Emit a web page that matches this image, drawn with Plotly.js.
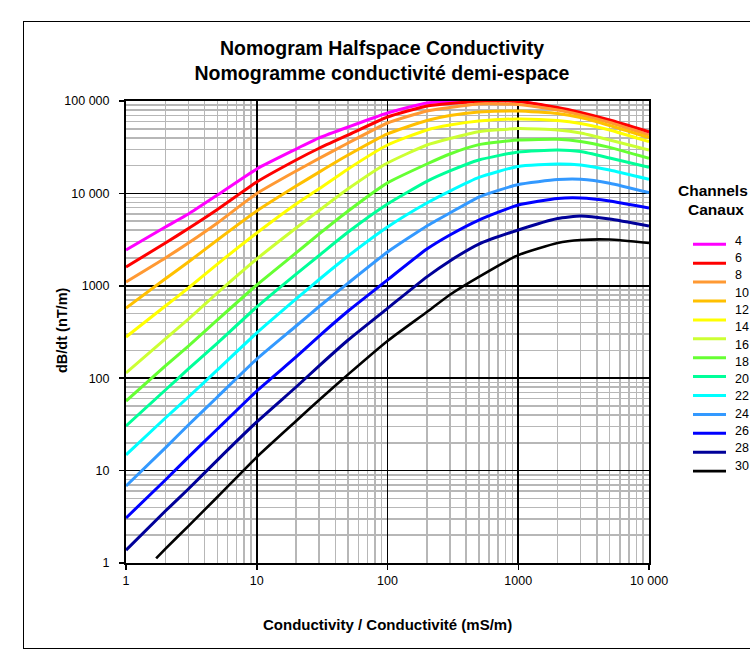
<!DOCTYPE html>
<html>
<head>
<meta charset="utf-8">
<script src="https://cdn.plot.ly/plotly-3.0.1.min.js"></script>
<style>
  html, body { margin: 0; padding: 0; background: #ffffff; }
  #wrap { position: relative; width: 750px; height: 659px; overflow: hidden; }
  #chart { width: 750px; height: 659px; }
  #frame { position: absolute; left: 23px; top: 21px; width: 760px; height: 626px;
           border: 1.5px solid #000; pointer-events: none; }
</style>
</head>
<body>
<div id="wrap">
  <div id="chart"></div>
  <div id="frame"></div>
</div>
<script>
// Conductivity (mS/m) sample points
const conductivity = [1, 2, 3, 5, 10, 20, 30, 50, 100, 200, 300, 500, 1000, 2000, 3000, 5000, 10000];
const conductivityCh30 = [1.7, 2, 3, 5, 10, 20, 30, 50, 100, 200, 300, 500, 1000, 2000, 3000, 5000, 10000];

// dB/dt (nT/m) per channel
const ch4  = [2440, 4330, 5990, 9610, 18400, 30200, 39800, 52300, 74200, 95200, 98800, 101000, 100000, 83000, 73000, 60500, 45000];
const ch6  = [1600, 2900, 4170, 6700, 13300, 23000, 30800, 42900, 67100, 88300, 94000, 98800, 98800, 85000, 75100, 62300, 46500];
const ch8  = [1100, 2000, 2900, 4780, 9980, 17500, 23900, 35100, 57800, 78000, 85000, 92800, 91600, 79900, 70600, 58500, 42900];
const ch10 = [575, 1190, 1810, 3130, 6450, 12000, 17000, 26000, 44000, 61500, 69700, 76000, 78000, 73200, 66300, 54300, 40100];
const ch12 = [279, 604, 947, 1720, 3730, 7680, 11200, 18400, 33400, 48600, 55000, 60800, 63900, 61500, 57100, 48600, 36300];
const ch14 = null; // no curve drawn for channel 14
const ch16 = [114, 266, 437, 836, 1950, 4220, 6530, 11200, 21300, 33400, 39300, 46500, 50400, 48600, 45100, 37800, 29500];
const ch18 = [56.6, 136, 223, 427, 1020, 2270, 3640, 6450, 13000, 20800, 26700, 33700, 37800, 38500, 36500, 31500, 24000];
const ch20 = [30.4, 74.5, 126, 240, 590, 1340, 2130, 3820, 7680, 13500, 17500, 23000, 28100, 29500, 28400, 24200, 19200];
const ch22 = [14.8, 37.1, 62.6, 123, 309, 720, 1170, 2100, 4330, 7870, 10600, 14900, 19600, 20800, 20300, 17900, 14200];
const ch24 = [6.81, 17.6, 31.2, 62.6, 161, 367, 597, 1070, 2320, 4440, 6140, 9140, 12500, 14100, 14200, 12900, 10200];
const ch26 = [3.07, 7.91, 14.0, 28.2, 72.7, 170, 286, 534, 1160, 2500, 3550, 5150, 7490, 8810, 8920, 8280, 6950];
const ch28 = [1.38, 3.65, 6.32, 13.0, 33.6, 80.3, 136, 259, 570, 1250, 1860, 2830, 4020, 5350, 5690, 5280, 4440];
const ch30 = [1.12, 1.42, 2.51, 5.18, 14.0, 34.4, 58.1, 110, 253, 520, 800, 1250, 2150, 2910, 3130, 3170, 2910];

const channelNames = ['4', '6', '8', '10', '12', '14', '16', '18', '20', '22', '24', '26', '28', '30'];
const channelColors = ['#FF00FF', '#FF0000', '#FF9933', '#FFC000', '#FFFF00', null, '#CCFF33', '#66FF33',
                       '#00FF99', '#00FFFF', '#3399FF', '#0000FF', '#000099', '#000000'];
const channelData = [ch4, ch6, ch8, ch10, ch12, ch14, ch16, ch18, ch20, ch22, ch24, ch26, ch28, ch30];

const xTickVals = [1, 10, 100, 1000, 10000];
const xTickText = ['1', '10', '100', '1000', '10 000'];
const yTickVals = [1, 10, 100, 1000, 10000, 100000];
const yTickText = ['1', '10', '100', '1000', '10 000', '100 000'];

// ---- layout geometry (pixels) ----
const W = 750, H = 659;
const M = { l: 126, r: 101, t: 101, b: 96 };
const plotW = W - M.l - M.r, plotH = H - M.t - M.b;
const px = (x) => (x - M.l) / plotW;
const py = (y) => (H - M.b - y) / plotH;

function minorVals(lo, hi) {
  const out = [];
  for (let d = lo; d < hi; d++) {
    for (let m = 2; m <= 9; m++) out.push(m * Math.pow(10, d));
  }
  return out;
}

const traces = [];
channelNames.forEach((name, i) => {
  const ys = channelData[i];
  if (!ys) return;
  traces.push({
    type: 'scatter',
    mode: 'lines',
    name: name,
    x: name === '30' ? conductivityCh30 : conductivity,
    y: ys,
    line: { color: channelColors[i], width: name === '30' ? 2.6 : 3, shape: 'spline', smoothing: 0.5 },
    showlegend: false,
    hoverinfo: 'x+y+name'
  });
});

const font = 'Liberation Sans, Arial, sans-serif';

const axisCommon = {
  type: 'log',
  showgrid: true,
  gridcolor: '#000000',
  gridwidth: 1.6,
  zeroline: false,
  showline: true,
  mirror: true,
  linecolor: '#000000',
  linewidth: 2,
  ticks: 'outside',
  ticklen: 5,
  tickwidth: 1.5,
  tickcolor: '#000000',
  tickfont: { family: font, size: 12.5, color: '#000000' }
};

// ---- legend drawn as key lines + labels (Excel-style spacing) ----
const shapes = [];
const annotations = [];
const keyColors = channelColors.filter(c => c);
keyColors.forEach((c, j) => {
  const yk = 244.3 + 18.9 * j;
  shapes.push({ type: 'line', xref: 'paper', yref: 'paper',
    x0: px(693), x1: px(726), y0: py(yk), y1: py(yk),
    line: { color: c, width: c === '#000000' ? 2.6 : 3 } });
});
channelNames.forEach((name, k) => {
  const yk = 240.7 + 17.3 * k;
  annotations.push({ text: name, xref: 'paper', yref: 'paper', x: px(733), y: py(yk),
    xanchor: 'left', yanchor: 'middle', showarrow: false,
    font: { family: font, size: 12.5, color: '#000000' } });
});
annotations.push(
  { text: '<b>Channels</b>', xref: 'paper', yref: 'paper', x: px(713), y: py(190.5),
    xanchor: 'center', yanchor: 'middle', showarrow: false,
    font: { family: font, size: 15.5, color: '#000000' } },
  { text: '<b>Canaux</b>', xref: 'paper', yref: 'paper', x: px(716), y: py(210),
    xanchor: 'center', yanchor: 'middle', showarrow: false,
    font: { family: font, size: 15.5, color: '#000000' } },
  { text: '<b>Conductivity / Conductivité (mS/m)</b>', xref: 'paper', yref: 'paper',
    x: px(387), y: py(624), xanchor: 'center', yanchor: 'middle', showarrow: false,
    font: { family: font, size: 15, color: '#000000' } },
  { text: '<b>dB/dt (nT/m)</b>', xref: 'paper', yref: 'paper', textangle: -90,
    x: px(62), y: py(330), xanchor: 'center', yanchor: 'middle', showarrow: false,
    font: { family: font, size: 14.5, color: '#000000' } }
);

const layout = {
  width: W,
  height: H,
  paper_bgcolor: '#ffffff',
  plot_bgcolor: '#ffffff',
  margin: { l: M.l, r: M.r, t: M.t, b: M.b, autoexpand: false },
  showlegend: false,
  title: {
    text: '<b>Nomogram Halfspace Conductivity<br>Nomogramme conductivité demi-espace</b>',
    font: { family: font, size: 19.5, color: '#000000' },
    x: 382 / W, xanchor: 'center', xref: 'container',
    y: 1 - 55 / H, yanchor: 'middle', yref: 'container'
  },
  xaxis: Object.assign({}, axisCommon, {
    range: [0, 4],
    tickmode: 'array', tickvals: xTickVals, ticktext: xTickText,
    minor: { tickmode: 'array', tickvals: minorVals(0, 4), showgrid: true, gridcolor: '#b7b7b7', gridwidth: 1.5, ticks: '' }
  }),
  yaxis: Object.assign({}, axisCommon, {
    range: [0, 5],
    ticklabelstandoff: 7,
    tickmode: 'array', tickvals: yTickVals, ticktext: yTickText,
    minor: { tickmode: 'array', tickvals: minorVals(0, 5), showgrid: true, gridcolor: '#b7b7b7', gridwidth: 1.5, ticks: '' }
  }),
  shapes: shapes,
  annotations: annotations
};

Plotly.newPlot('chart', traces, layout, { displayModeBar: false, staticPlot: true });
</script>
</body>
</html>
